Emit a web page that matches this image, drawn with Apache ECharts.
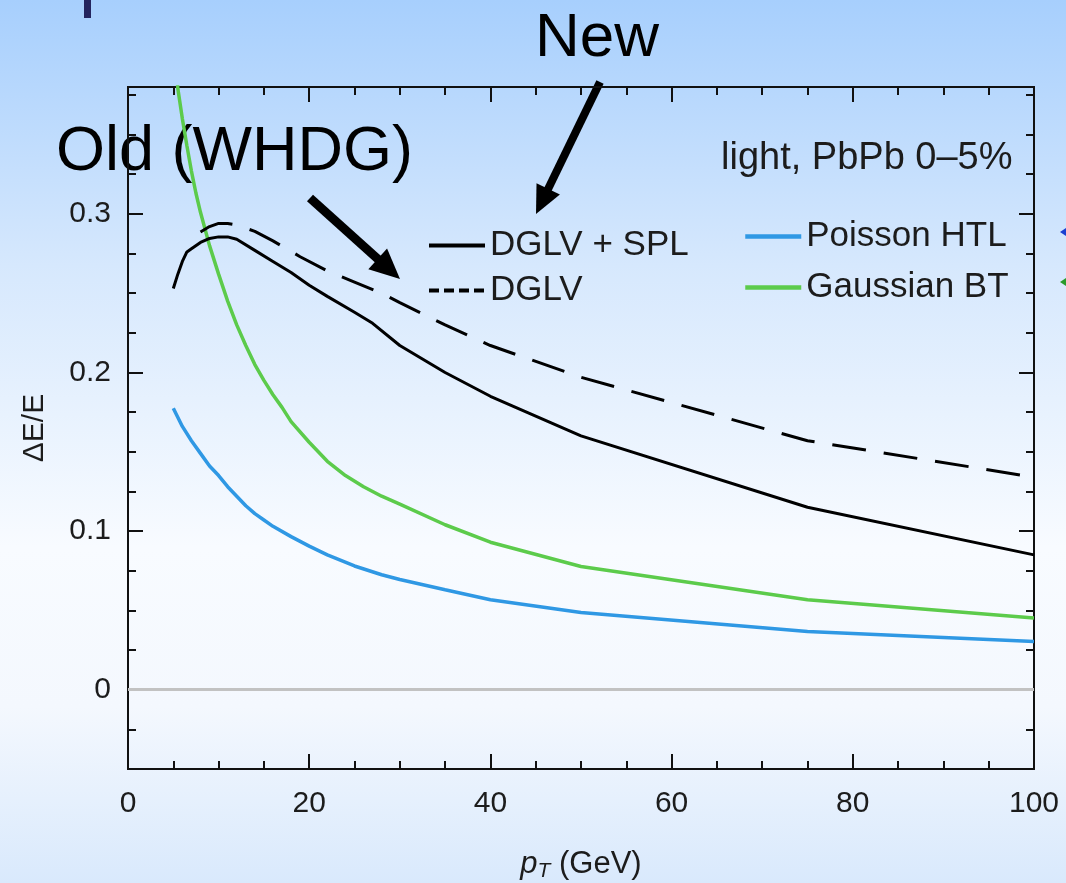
<!DOCTYPE html>
<html><head><meta charset="utf-8">
<script src="https://cdn.jsdelivr.net/npm/echarts@6/dist/echarts.min.js"></script>
<style>html,body{margin:0;padding:0;width:1066px;height:883px;overflow:hidden}#c{width:1066px;height:883px}</style>
</head><body><div id="c"></div>
<script>
// ---- data ----
const ptSpl = [5,5.5,6,6.5,7,8,9,10,11,12,14,16,18,20,22,25,27,30,35,40,50,75,100];
const dglvSpl = [0.253,0.262,0.270,0.276,0.278,0.282,0.2845,0.2855,0.2855,0.284,0.277,0.270,0.263,0.255,0.248,0.238,0.231,0.217,0.200,0.185,0.160,0.115,0.085];
const ptDglv = [8,9,10,11,12,14,16,19,22,25,28,30,35,40,50,75,100];
const dglv = [0.2886,0.292,0.294,0.294,0.293,0.289,0.283,0.273,0.264,0.257,0.250,0.244,0.230,0.217,0.197,0.157,0.134];
const ptHtl = [5,6,7,8,9,10,11,12,13,14,15,16,18,20,22,25,28,30,35,40,50,75,100];
const htl = [0.1775,0.166,0.157,0.149,0.141,0.135,0.128,0.122,0.116,0.111,0.107,0.103,0.0965,0.0905,0.085,0.078,0.0725,0.0695,0.063,0.0567,0.0487,0.0367,0.0304];
const ptBt = [5,5.5,6,6.5,7,7.5,8,9,10,11,12,13,14,15,16,17,18,20,22,24,26,28,30,35,40,50,75,100];
const bt = [0.42,0.379,0.360,0.343,0.327,0.313,0.301,0.280,0.262,0.245,0.230,0.217,0.205,0.195,0.186,0.178,0.169,0.156,0.144,0.135,0.128,0.122,0.117,0.104,0.093,0.0777,0.0567,0.0452];
const xTicks = [0,20,40,60,80,100];
const yMajor = [0,0.1,0.2,0.3];
const seriesNames = ['DGLV + SPL','DGLV','Poisson HTL','Gaussian BT'];
const noteText = 'light, PbPb 0–5%';
const yName = 'ΔE/E';

const pairs = (xs, ys) => xs.map((x, i) => [x, ys[i]]);
const FONT = '"Liberation Sans", Arial, Helvetica, sans-serif';
const TXT = '#1c1c1c';

const yCommon = { type:'value', min:-0.05, max:0.38, interval:0.025, splitLine:{show:false} };
const axLine = { show:true, onZero:false, lineStyle:{color:'#111', width:2} };

const chart = echarts.init(document.getElementById('c'));

function arrow(x1,y1,x2,y2,hl,hw,w){
  const dx=x2-x1, dy=y2-y1, L=Math.hypot(dx,dy), ux=dx/L, uy=dy/L;
  const bx=x2-hl*ux, by=y2-hl*uy, nx=-uy, ny=ux;
  return [
    {type:'line', shape:{x1:x1,y1:y1,x2:bx+ux*2,y2:by+uy*2}, style:{stroke:'#000', lineWidth:w}},
    {type:'polygon', shape:{points:[[x2,y2],[bx+nx*hw,by+ny*hw],[bx-nx*hw,by-ny*hw]]}, style:{fill:'#000'}}
  ];
}

const legendText = {fontSize:35, lineHeight:35, color:TXT, fontFamily:FONT};

chart.setOption({
  backgroundColor:{type:'linear',x:0,y:0,x2:0,y2:1,colorStops:[
    {offset:0,color:'#a7cffd'},{offset:0.3,color:'#d6e8fd'},{offset:0.62,color:'#f8fbff'},{offset:0.8,color:'#f4f8fe'},{offset:1,color:'#d9e9fc'}]},
  animation:false,
  grid:{left:128, right:32, top:87, bottom:114, containLabel:false, outerBoundsMode:'none'},
  xAxis:[
    {type:'value', min:0, max:100, interval:20, position:'bottom',
     axisLine:axLine, axisTick:{show:true, inside:true, length:15, lineStyle:{color:'#111', width:2}},
     minorTick:{show:true, splitNumber:4, length:8, lineStyle:{color:'#111', width:2}},
     axisLabel:{show:true, margin:20, fontSize:30, color:TXT, fontFamily:FONT, customValues:xTicks},
     splitLine:{show:false},
     name:'{i|p}{s|T}{n| (GeV)}', nameLocation:'middle', nameGap:78,
     nameTextStyle:{rich:{i:{fontStyle:'italic', fontSize:31, color:TXT, fontFamily:FONT},
                          s:{fontStyle:'italic', fontSize:21, color:TXT, fontFamily:FONT, padding:[14,0,0,0]},
                          n:{fontSize:31, color:TXT, fontFamily:FONT}}}},
    {type:'value', min:0, max:100, interval:20, position:'top',
     axisLine:axLine, axisTick:{show:true, inside:true, length:15, lineStyle:{color:'#111', width:2}},
     minorTick:{show:true, splitNumber:4, length:8, lineStyle:{color:'#111', width:2}},
     axisLabel:{show:false}, splitLine:{show:false}}
  ],
  yAxis:[
    Object.assign({}, yCommon, {position:'left', axisLine:axLine,
      axisTick:{show:true, inside:true, length:8, lineStyle:{color:'#111', width:2}},
      axisLabel:{show:false},
      name:yName, nameLocation:'middle', nameGap:78, nameRotate:90,
      nameTextStyle:{fontSize:30, color:TXT, fontFamily:FONT}}),
    Object.assign({}, yCommon, {position:'left', axisLine:axLine,
      axisTick:{show:true, inside:true, length:15, customValues:yMajor, lineStyle:{color:'#111', width:2}},
      axisLabel:{show:true, customValues:yMajor, margin:17, fontSize:30, color:TXT, fontFamily:FONT}}),
    Object.assign({}, yCommon, {position:'right', axisLine:axLine,
      axisTick:{show:true, inside:true, length:8, lineStyle:{color:'#111', width:2}},
      axisLabel:{show:false}}),
    Object.assign({}, yCommon, {position:'right', axisLine:axLine,
      axisTick:{show:true, inside:true, length:15, customValues:yMajor, lineStyle:{color:'#111', width:2}},
      axisLabel:{show:false}})
  ],
  legend:[
    {left:427, top:228, padding:0, orient:'vertical', itemWidth:56, itemHeight:14, itemGap:10, selectedMode:false,
     itemStyle:{opacity:0},
     data:[{name:seriesNames[0], lineStyle:{width:4}},{name:seriesNames[1], lineStyle:{type:[10,5], width:4}}],
     textStyle:legendText},
    {left:743, top:219, padding:0, orient:'vertical', itemWidth:56, itemHeight:14, itemGap:16, selectedMode:false,
     itemStyle:{opacity:0},
     data:[{name:seriesNames[2], lineStyle:{width:4.5}},{name:seriesNames[3], lineStyle:{width:4.5}}],
     textStyle:legendText}
  ],
  title:{text:noteText, left:721, top:140, padding:0, textStyle:{fontSize:38, fontWeight:'normal', color:TXT, fontFamily:FONT}},
  series:[
    {name:seriesNames[0], type:'line', data:pairs(ptSpl,dglvSpl), showSymbol:false, symbol:'none', clip:true,
     lineStyle:{color:'#000', width:3}, itemStyle:{color:'#000'}, z:5,
     markLine:{silent:true, symbol:'none', label:{show:false}, lineStyle:{color:'#c2c2c2', width:3, type:'solid'}, data:[{yAxis:0}]}},
    {name:seriesNames[1], type:'line', data:pairs(ptDglv,dglv), showSymbol:false, symbol:'none', clip:true,
     lineStyle:{color:'#000', width:3, type:[34,18]}, itemStyle:{color:'#000'}, z:5},
    {name:seriesNames[2], type:'line', data:pairs(ptHtl,htl), showSymbol:false, symbol:'none', clip:true,
     lineStyle:{color:'#2f98e4', width:3.5}, itemStyle:{color:'#2f98e4'}, z:4},
    {name:seriesNames[3], type:'line', data:pairs(ptBt,bt), showSymbol:false, symbol:'none', clip:true,
     lineStyle:{color:'#5ccb4b', width:3.5}, itemStyle:{color:'#5ccb4b'}, z:4}
  ],
  graphic:[
    {type:'rect', shape:{x:84,y:0,width:7,height:18}, style:{fill:'#24245e'}},
    {type:'text', left:535, top:8, style:{text:'New', fontSize:62, fill:'#000', fontFamily:FONT}},
    {type:'text', left:56, top:121, style:{text:'Old (WHDG)', fontSize:63, fill:'#000', fontFamily:FONT}},
    ...arrow(600,82,536,214,28,13,8),
    ...arrow(310,198,400,279,30,14,9),
    {type:'polygon', shape:{points:[[1060,232],[1066,228],[1066,236]]}, style:{fill:'#1a3fd0'}},
    {type:'polygon', shape:{points:[[1060,282],[1066,278],[1066,286]]}, style:{fill:'#2a9a2a'}}
  ]
});
</script></body></html>
